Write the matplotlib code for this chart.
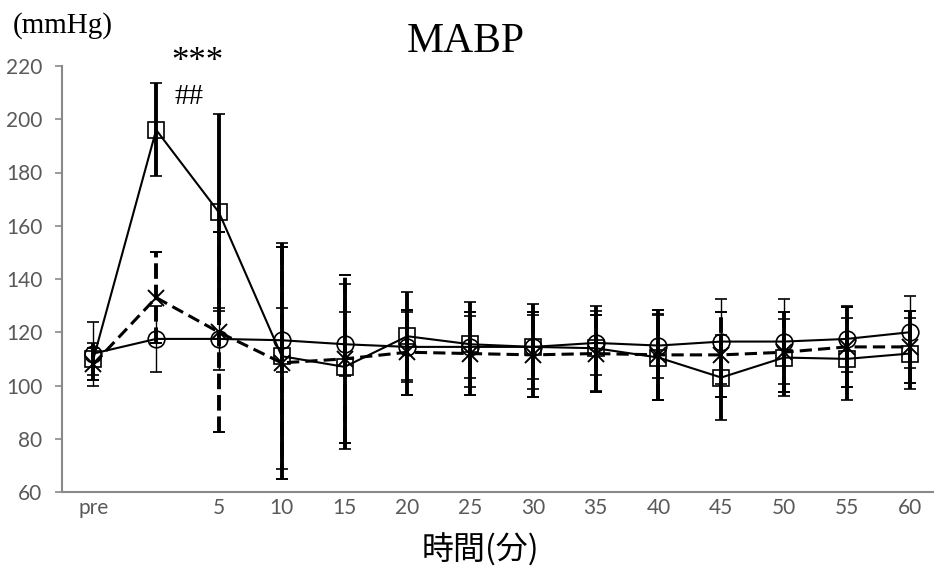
import matplotlib.pyplot as plt
import numpy as np

# categories on the time axis (second one has no label)
cats = ['pre', '', '5', '10', '15', '20', '25', '30', '35', '40', '45', '50', '55', '60']

# circle series (solid line, thin error bars)
circ = [112, 117.5, 117.5, 117, 115.5, 114.5, 114.5, 114.5, 116, 115, 116.5, 116.5, 117.5, 120]
circ_sd = [12, 12.5, 11.5, 12, 12, 13, 11.5, 12, 12, 12, 16, 16, 12.5, 13.5]

# square series (solid line, thick error bars)
sq = [110, 196, 165, 111, 107, 118.5, 115.5, 114.5, 114, 110.5, 103, 110.5, 110, 112]
sq_sd = [6, 17.5, 37, 42.5, 31, 16.5, 16, 16, 16, 16, 16, 14.5, 15.5, 13.5]

# cross series (dashed line, dashed thick error bars)
cr = [108, 133, 120, 108.5, 110, 112.5, 112, 111.5, 112, 111.5, 111.5, 112.5, 114.5, 114.5]
cr_sd = [6, 17, 37.5, 43.5, 31.5, 16, 15.5, 16, 14.5, 17, 16, 15, 15, 13.5]

x = np.arange(len(cats))

fig = plt.figure(figsize=(9.34, 5.71), dpi=100)
ax = fig.add_axes([62/934, 79/571, 879/934, 426/571])

# circles
ax.errorbar(x, circ, yerr=circ_sd, color='black', linewidth=1.5, elinewidth=1, capsize=4.5,
            capthick=1, marker='o', markersize=12, markerfacecolor='none',
            markeredgecolor='black', markeredgewidth=1.2, zorder=3)

# squares
ax.errorbar(x, sq, yerr=sq_sd, color='black', linewidth=1.5, elinewidth=2.8, capsize=4,
            capthick=2.8, marker='s', markersize=11.5, markerfacecolor='none',
            markeredgecolor='black', markeredgewidth=1.2, zorder=4)

# crosses
eb = ax.errorbar(x, cr, yerr=cr_sd, color='black', linewidth=2.2, linestyle='--',
                 dashes=(4, 2), elinewidth=2.8, capsize=4, capthick=2.8, marker='x',
                 markersize=12, markeredgewidth=1.4, zorder=2)
eb[2][0].set_linestyle((0, (4, 1.5)))

ax.set_xlim(-0.5, 13.5)
ax.set_ylim(60, 220)
ax.set_yticks(range(60, 221, 20))
ax.set_xticks(x)
ax.set_xticklabels(cats)

for s in ['top', 'right']:
    ax.spines[s].set_visible(False)
for s in ['left', 'bottom']:
    ax.spines[s].set_color('#898989')
    ax.spines[s].set_linewidth(1.5)

ax.tick_params(axis='y', colors='#898989', length=5, width=1.2, pad=9,
               labelcolor='#595959', labelsize=15)
ax.tick_params(axis='x', length=0, pad=4, labelcolor='#595959', labelsize=15)
for lab in ax.get_xticklabels() + ax.get_yticklabels():
    lab.set_family('Lato')

# texts
fig.text(13/934, 1 - 26/571, '(mmHg)', family='Liberation Serif', fontsize=21,
         ha='left', va='center')
fig.text(466/934, 1 - 42/571, 'MABP', family='Liberation Serif', fontsize=30,
         ha='center', va='center')
ax.text(1.66, 221.5, '***', family='Liberation Serif', fontsize=25, ha='center',
        va='center', clip_on=False)
ax.text(1.53, 208.5, '##', family='Liberation Serif', fontsize=21, ha='center',
        va='center', clip_on=False)
fig.text(480/934, 1 - 550/571, '時間(分)', family=['Noto Sans CJK JP', 'DejaVu Sans'],
         fontsize=23, ha='center', va='center')

fig.savefig('out.png', dpi=100)
